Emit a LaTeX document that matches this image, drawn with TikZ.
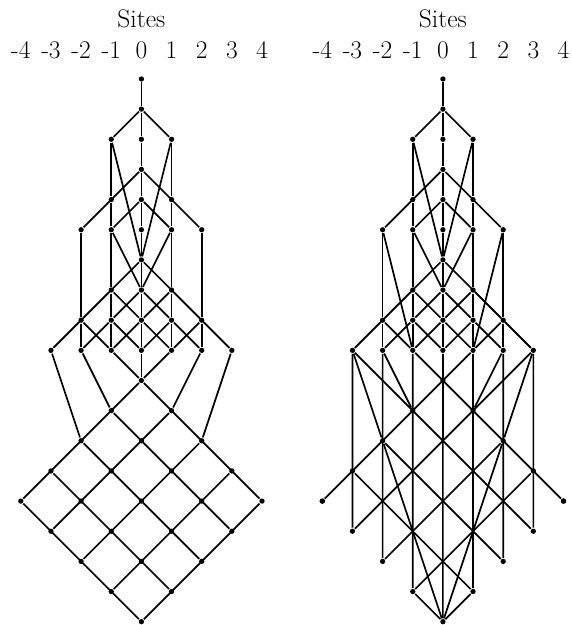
\documentclass[tikz,border=0pt]{standalone}
\usepackage{tikz}
\usetikzlibrary{positioning}

\begin{document}
\begin{tikzpicture}[x=1cm,y=1cm,line width=1.6pt,
  dot/.style={circle,fill,inner sep=0pt,minimum size=5pt},
  lab/.style={font=\fontsize{24}{28}\selectfont,inner sep=0pt}]
\useasboundingbox (-4.69,2.62) rectangle (14.28,-18.11);
% both panels
\foreach \p/\xo in {a/0,b/10}{
  \begin{scope}[xshift=\xo cm]
  \node[lab](\p-title) at (0,1.98){Sites};
  \foreach \s in {-4,...,4}
    \node[lab](\p-site\s) at (\s,0.96){\s};
  % stem and cones
  \node[dot](\p-0-0) at (0,0){};
  \node[dot](\p-0-1) at (0,-1){};
  \foreach \t/\w in {2/1,3/0,4/1,5/2,6/0,7/1,8/2,9/3}
    \foreach \s in {-3,...,3}{
      \ifnum\numexpr\s*\s\relax>\numexpr\w*\w\relax\else
        \node[dot](\p-\s-\t) at (\s,-\t){};\fi}
  \end{scope}
}
% left: diamond
\foreach \t in {10,...,18}
  \foreach \s in {-4,...,4}{
    \pgfmathtruncatemacro{\ok}{and(abs(\s)<=min(\t-10,18-\t),iseven(\s+\t))}
    \ifnum\ok=1 \node[dot](a-\s-\t) at (\s,-\t){};\fi
  }
% right: boundary of the diamond
\node[dot](b-0-10) at (10,-10){};
\foreach \s in {1,...,4}{
  \pgfmathtruncatemacro{\t}{10+\s}
  \pgfmathtruncatemacro{\u}{18-\s}
  \node[dot](b-\s-\t) at (10+\s,-\t){};
  \node[dot](b--\s-\t) at (10-\s,-\t){};
  \node[dot](b-\s-\u) at (10+\s,-\u){};
  \node[dot](b--\s-\u) at (10-\s,-\u){};
}
\node[dot](b-0-18) at (10,-18){};
% top part, same on both sides
\foreach \p in {a,b}{
  \draw (\p-0-0)--(\p-0-1)--(\p-0-2)--(\p-0-3)--(\p-0-4)--(\p-0-5)--(\p-0-6)--(\p-0-7)--(\p-0-8)--(\p-0-9);
  \draw (\p--1-2)--(\p-0-1)--(\p-1-2);
  \draw (\p--1-2)--(\p--1-4)--(\p--1-5)--(\p--1-7)--(\p--1-8)--(\p--1-9);
  \draw (\p-1-2)--(\p-1-4)--(\p-1-5)--(\p-1-7)--(\p-1-8)--(\p-1-9);
  \draw (\p--2-5)--(\p--2-8)--(\p--2-9);
  \draw (\p-2-5)--(\p-2-8)--(\p-2-9);
  \draw (\p--1-2)--(\p-0-6)--(\p-1-2);
  \draw (\p--1-5)--(\p-0-7)--(\p-1-5);
  % cone 2
  \draw (\p--2-5)--(\p-0-3)--(\p-2-5);
  \draw (\p--1-5)--(\p-0-4)--(\p-1-5);
  % cone 3
  \draw (\p--3-9)--(\p-0-6)--(\p-3-9);
  \foreach \s in {-1,0,1}{
    \pgfmathtruncatemacro{\l}{\s-1}\pgfmathtruncatemacro{\r}{\s+1}
    \draw (\p-\l-8)--(\p-\s-7)--(\p-\r-8);}
  \foreach \s in {-2,...,2}{
    \pgfmathtruncatemacro{\l}{\s-1}\pgfmathtruncatemacro{\r}{\s+1}
    \draw (\p-\l-9)--(\p-\s-8)--(\p-\r-9);}
}
% left: into the diamond
\draw (a--3-9)--(a--2-12);
\draw (a--2-9)--(a--1-11);
\draw (a--1-9)--(a-0-10)--(a-1-9);
\draw (a-0-9)--(a-0-10);
\draw (a-2-9)--(a-1-11);
\draw (a-3-9)--(a-2-12);
\draw (a-0-10)--(a--4-14); \draw (a-0-10)--(a-4-14);
\draw (a--4-14)--(a-0-18); \draw (a-4-14)--(a-0-18);
\draw (a-1-11)--(a--3-15); \draw (a-2-12)--(a--2-16); \draw (a-3-13)--(a--1-17);
\draw (a--1-11)--(a-3-15); \draw (a--2-12)--(a-2-16); \draw (a--3-13)--(a-1-17);
% right: lower part
\draw (b-0-9)--(b-0-18);
\draw (b--1-9)--(b--1-17); \draw (b-1-9)--(b-1-17);
\draw (b--2-9)--(b--2-16); \draw (b-2-9)--(b-2-16);
\draw (b--3-9)--(b--3-15); \draw (b-3-9)--(b-3-15);
\draw (b--2-5)--(b--1-9); \draw (b-2-5)--(b-1-9);
\draw (b--2-9)--(b--1-11); \draw (b-2-9)--(b-1-11);
\draw (b--3-9)--(b--2-12)--(b-0-18)--(b-2-12)--(b-3-9);
\draw (b-1-9)--(b--4-14); \draw (b--1-9)--(b-4-14);
\draw (b-3-9)--(b--3-15); \draw (b--3-9)--(b-3-15);
\draw (b-2-12)--(b--2-16); \draw (b--2-12)--(b-2-16);
\draw (b-3-13)--(b--1-17); \draw (b--3-13)--(b-1-17);
\draw (b--1-17)--(b-0-18)--(b-1-17);
\end{tikzpicture}
\end{document}
